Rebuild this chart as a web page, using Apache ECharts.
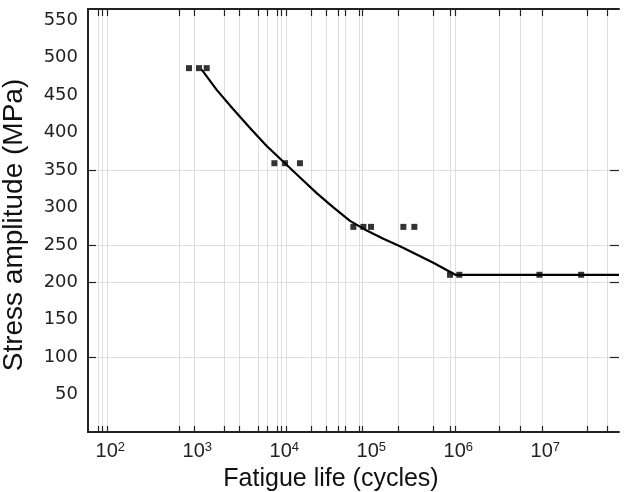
<!DOCTYPE html>
<html>
<head>
<meta charset="utf-8">
<script src="https://cdn.jsdelivr.net/npm/echarts@6/dist/echarts.min.js"></script>
<style>
  html, body { margin: 0; padding: 0; background: #fff; }
  #main { width: 626px; height: 492px; }
</style>
</head>
<body>
<div id="main"></div>
<script>
// tick / grid positions
var cycleTicks = [79, 88, 100, 670, 1000, 2200, 3300, 5500, 6800, 8900, 10000, 11300,
  22000, 33000, 45000, 55000, 78000, 86000, 218000, 550000, 885000, 1000000,
  3220000, 5540000, 10000000, 32600000, 55400000];
var decadeLabels = [1e2, 1e3, 1e4, 1e5, 1e6, 1e7];
var stressTicks = [100, 200, 250, 350];
var stressLabels = [50, 100, 150, 200, 250, 300, 350, 400, 450, 500, 550];

// test points
var testCycles = [869, 1132, 1388, 8320, 11040, 16370, 67300, 87700, 107400,
  252700, 338000, 869000, 1110000, 9250000, 27900000];
var testStress = [486, 486, 486, 359, 359, 359, 274, 274, 274,
  274, 274, 210, 210, 210, 210];

// fitted S-N curve
var curveCycles = [1216, 1809, 2805, 4365, 6790, 10550, 16400, 25500, 39600, 61600,
  95900, 148700, 231000, 359000, 558000, 832000, 1000000, 76000000];
var curveStress = [484, 457, 431, 406, 382, 361, 340, 319, 300, 282,
  269, 258, 248, 237, 226, 215, 210, 210];

var xMin = 60, xMax = 76000000;

var points = testCycles.map(function (c, i) { return [c, testStress[i]]; });
var curve = curveCycles.map(function (c, i) { return [c, curveStress[i]]; });

var myChart = echarts.init(document.getElementById('main'));

var tickStyle = { color: '#222', width: 1.2 };
var gridStyle = { color: '#dedede', width: 1, type: 'solid' };

myChart.setOption({
  animation: false,
  grid: { left: 88, top: 9, width: 531, height: 423 },
  xAxis: [{
    type: 'log',
    logBase: 10,
    min: xMin,
    max: xMax,
    position: 'bottom',
    z: 3,
    axisLine: { show: true, onZero: false, lineStyle: { color: '#222', width: 2 } },
    axisTick: { show: true, inside: true, length: 6, customValues: cycleTicks, lineStyle: tickStyle },
    splitLine: { show: true, lineStyle: gridStyle },
    minorTick: { show: false },
    axisLabel: {
      customValues: decadeLabels,
      margin: 9,
      padding: [0, 0, 0, 6],
      formatter: function (v) {
        return '{b|10}{s|' + Math.round(Math.log10(v)) + '}';
      },
      rich: {
        b: { fontFamily: 'Liberation Sans', fontSize: 20, color: '#222', lineHeight: 20, verticalAlign: 'bottom' },
        s: { fontFamily: 'Liberation Sans', fontSize: 13, color: '#222', lineHeight: 13, verticalAlign: 'top' }
      }
    }
  }, {
    type: 'log',
    logBase: 10,
    min: xMin,
    max: xMax,
    position: 'top',
    z: 3,
    axisLine: { show: true, onZero: false, lineStyle: { color: '#222', width: 2 } },
    axisTick: { show: true, inside: true, length: 7, customValues: cycleTicks, lineStyle: tickStyle },
    splitLine: { show: false },
    axisLabel: { show: false }
  }],
  yAxis: [{
    type: 'value',
    min: 0,
    max: 565,
    position: 'left',
    z: 3,
    axisLine: { show: true, onZero: false, lineStyle: { color: '#222', width: 2 } },
    axisTick: { show: true, inside: true, length: 8, customValues: stressTicks, lineStyle: tickStyle },
    splitLine: { show: false },
    axisLabel: {
      customValues: stressLabels,
      margin: 10,
      fontFamily: 'DejaVu Sans',
      fontSize: 18,
      color: '#222'
    }
  }, {
    type: 'value',
    min: 0,
    max: 565,
    position: 'right',
    z: 3,
    axisLine: { show: false },
    axisTick: { show: true, inside: true, length: 9, customValues: stressTicks, lineStyle: tickStyle },
    splitLine: { show: false },
    axisLabel: { show: false }
  }],
  graphic: [{
    type: 'text',
    x: 331,
    y: 479,
    style: {
      text: 'Fatigue life (cycles)',
      fontFamily: 'Liberation Sans',
      fontSize: 25,
      fill: '#111',
      textAlign: 'center',
      textVerticalAlign: 'middle'
    }
  }, {
    type: 'text',
    x: 14,
    y: 225,
    rotation: Math.PI / 2,
    style: {
      text: 'Stress amplitude (MPa)',
      fontFamily: 'Liberation Sans',
      fontSize: 28,
      fill: '#111',
      textAlign: 'center',
      textVerticalAlign: 'middle'
    }
  }],
  series: [{
    // horizontal grid lines only at the ticked stress values
    name: 'grid',
    type: 'line',
    data: [],
    silent: true,
    z: 1,
    markLine: {
      silent: true,
      z: 1,
      symbol: 'none',
      label: { show: false },
      lineStyle: gridStyle,
      emphasis: { disabled: true },
      data: stressTicks.map(function (v) { return { yAxis: v }; })
    }
  }, {
    name: 'fit',
    type: 'line',
    data: curve,
    smooth: false,
    showSymbol: false,
    symbol: 'none',
    lineStyle: { color: '#000', width: 2.2, join: 'round' },
    z: 4
  }, {
    name: 'test',
    type: 'scatter',
    data: points,
    symbol: 'rect',
    symbolSize: 6,
    itemStyle: { color: '#000' },
    z: 5
  }]
});
</script>
</body>
</html>
